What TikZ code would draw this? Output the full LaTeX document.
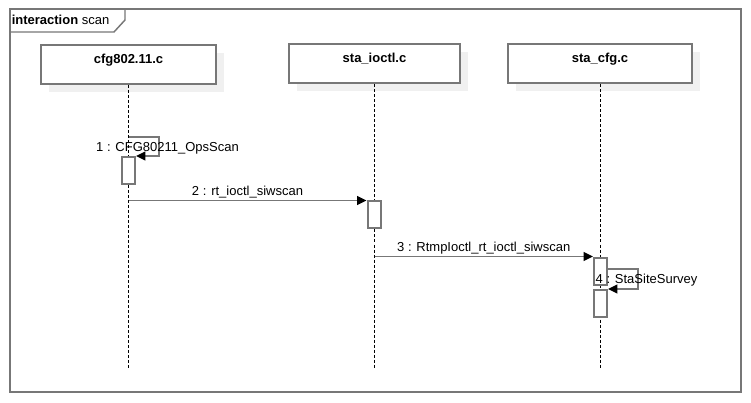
\documentclass[tikz,border=0pt]{standalone}
\usepackage{fontspec}
\setmainfont{Liberation Sans}
\usetikzlibrary{arrows.meta,shadows}
\definecolor{umlgray}{HTML}{777777}
\tikzset{
  obj/.style={draw=umlgray,line width=1.5pt,fill=white,minimum height=29.25pt,
    text height=7pt,text depth=9pt,font=\fontsize{9.75}{12}\selectfont\bfseries,
    general shadow={fill=black!6,shadow xshift=6pt,shadow yshift=-6pt}},
  act/.style={draw=umlgray,line width=1.5pt,fill=white,minimum width=9.75pt,
    minimum height=20.25pt,inner sep=0pt},
  lifeline/.style={black,line width=0.75pt,dash pattern=on 2.25pt off 1.5pt},
  msg/.style={umlgray,line width=1.3pt,-{Triangle[length=7pt,width=6.5pt,color=black]}},
  msglabel/.style={inner sep=1pt,text=black}
}
\begin{document}
\begin{tikzpicture}[x=0.75pt,y=-0.75pt,font=\fontsize{9.75}{12}\selectfont]
    \useasboundingbox (0,0) rectangle (751,403);
    % frame
    \draw[umlgray,line width=1.5pt] (10,9) rectangle (741,392);
    \draw[umlgray,line width=1.1pt] (10,32) -- (114,32) -- (125,20) -- (125,9);
    \node[anchor=west,inner sep=0pt] (frmlabel) at (11.5,20) {\textbf{interaction} scan};
    % objects
    \node[obj,minimum width=131.25pt] (cfg) at (128.5,64.5) {cfg802.11.c};
    \node[obj,minimum width=128.25pt] (sioctl) at (374.5,64) {sta\_ioctl.c};
    \node[obj,minimum width=138pt] (scfg) at (600,64) {sta\_cfg.c};
    \coordinate (bot) at (0,369);
    \foreach \o in {cfg,sioctl,scfg}
        \draw[lifeline] (\o.south) -- (\o.south |- bot);
    % activations
    \node[act] (act1) at (128.5,170.5) {};
    \node[act] (act2) at (374,215) {};
    \node[act] (act3) at (600.5,271) {};
    \node[act] (act4) at (600.5,303.5) {};
    % messages
    \coordinate (m1) at (129,137);
    \draw[msg] (m1) -- ++(30,0) |- (act1.north east);
    \node[msglabel] (l1) at (167.5,148) {1 : CFG80211\_OpsScan};
    \draw[msg] (cfg.south |- act2.north) -- (act2.north west)
        node[msglabel,midway,above] (l2) {2 : rt\_ioctl\_siwscan};
    \draw[msg] (sioctl.south |- act3.north) -- (act3.north west)
        node[msglabel,midway,above] (l3) {3 : RtmpIoctl\_rt\_ioctl\_siwscan};
    \draw[msg] ([yshift=1.5pt]act3.east) -- ++(30,0) |- (act4.north east);
    \node[msglabel] (l4) at (646.5,280) {4 : StaSiteSurvey};
\end{tikzpicture}
\end{document}
